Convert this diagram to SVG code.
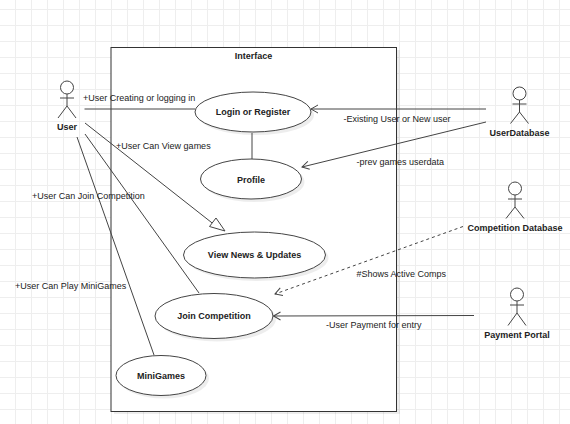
<svg xmlns="http://www.w3.org/2000/svg" width="570" height="424" viewBox="0 0 570 424">
<defs>
<pattern id="grid" width="16" height="16" patternUnits="userSpaceOnUse" x="0" y="9">
<path d="M15.500 0V16M0 .5H16" fill="none" stroke="#eeeeee" stroke-width="1"/>
</pattern>
<marker id="open" viewBox="0 0 9 10" refX="8" refY="5" markerWidth="9" markerHeight="10" markerUnits="userSpaceOnUse" orient="auto"><path d="M1 1L8 5L1 9" fill="none" stroke="#444" stroke-width="1"/></marker>
</defs>
<style>
text{font-family:"Liberation Sans",Arial,sans-serif;font-size:9px;fill:#222}
.b{font-weight:bold;text-anchor:middle}
.s{fill:#000;fill-opacity:.07;stroke:none}
.u{fill:#fff;stroke:#444;stroke-width:1}
.a{fill:#fff;stroke:#444;stroke-width:1}
.c{fill:none;stroke:#444;stroke-width:1}
</style>
<rect width="570" height="424" fill="#fff"/>
<rect width="570" height="424" fill="url(#grid)"/>
<g id="interface">
<rect class="s" x="114" y="50" width="286" height="364"/>
<rect x="111" y="47.500" width="285.500" height="364" fill="#fff" stroke="#333"/>
<text class="b" x="253.500" y="59">Interface</text>
</g>
<g id="login"><ellipse class="s" cx="256" cy="115" rx="58" ry="20"/><ellipse class="u" cx="253" cy="112" rx="58" ry="20"/><text class="b" x="253" y="115">Login or Register</text></g>
<g id="profile"><ellipse class="s" cx="254" cy="182" rx="50.500" ry="20"/><ellipse class="u" cx="251" cy="179" rx="50.500" ry="20"/><text class="b" x="251" y="183">Profile</text></g>
<g id="news"><ellipse class="s" cx="257.500" cy="258" rx="71" ry="23"/><ellipse class="u" cx="254.500" cy="255" rx="71" ry="23"/><text class="b" x="254.500" y="258">View News &amp; Updates</text></g>
<g id="join"><ellipse class="s" cx="217" cy="319" rx="59" ry="22.500"/><ellipse class="u" cx="214" cy="316" rx="59" ry="22.500"/><text class="b" x="214" y="319">Join Competition</text></g>
<g id="minigames"><ellipse class="s" cx="164" cy="378.500" rx="45" ry="20"/><ellipse class="u" cx="161" cy="375.500" rx="45" ry="20"/><text class="b" x="161" y="379">MiniGames</text></g>
<g id="user"><circle class="a" cx="67" cy="87.500" r="6.500"/><path class="c" d="M67 94V106M60 98H74M67 106L58 118M67 106L76 118"/><text class="b" x="67" y="130">User</text></g>
<g id="userdatabase"><circle class="a" cx="519.500" cy="93.500" r="6.500"/><path class="c" d="M519.500 100V112M512.500 104H526.500M519.500 112L510.500 123.500M519.500 112L528.500 123.500"/><text class="b" x="519.500" y="136">UserDatabase</text></g>
<g id="competitiondb"><circle class="a" cx="515" cy="188.500" r="6.500"/><path class="c" d="M515 195V207M508 199H522M515 207L506 218.500M515 207L524 218.500"/><text class="b" x="515" y="231">Competition Database</text></g>
<g id="paymentportal"><circle class="a" cx="517" cy="294.500" r="6.500"/><path class="c" d="M517 301V313M510 305H524M517 313L508 325.500M517 313L526 325.500"/><text class="b" x="517" y="338">Payment Portal</text></g>
<g id="connectors">
<path d="M84.500 109H195" class="c"/>
<path d="M85 123L216 226" class="c"/>
<polygon points="216,218 209.500,226.500 225,231" fill="#fff" stroke="#444"/>
<path d="M85 134L199 293" class="c"/>
<path d="M77 137L154 355" class="c"/>
<path d="M252 133V159" class="c"/>
<path d="M486 109H311" class="c" marker-end="url(#open)"/>
<path d="M486 122L302 167" class="c" marker-end="url(#open)"/>
<path d="M463 226.500L275 294" class="c" stroke-dasharray="3 3" marker-end="url(#open)"/>
<path d="M474 315.500L273.500 316" class="c" marker-end="url(#open)"/>
</g>
<g id="labels">
<text x="83" y="101">+User Creating or logging in</text>
<text x="116" y="149">+User Can View games</text>
<text x="32" y="199">+User Can Join Competition</text>
<text x="15" y="289">+User Can Play MiniGames</text>
<text x="343.500" y="122">-Existing User or New user</text>
<text x="356.500" y="165">-prev games userdata</text>
<text x="356.500" y="277">#Shows Active Comps</text>
<text x="326" y="328">-User Payment for entry</text>
</g>
</svg>
